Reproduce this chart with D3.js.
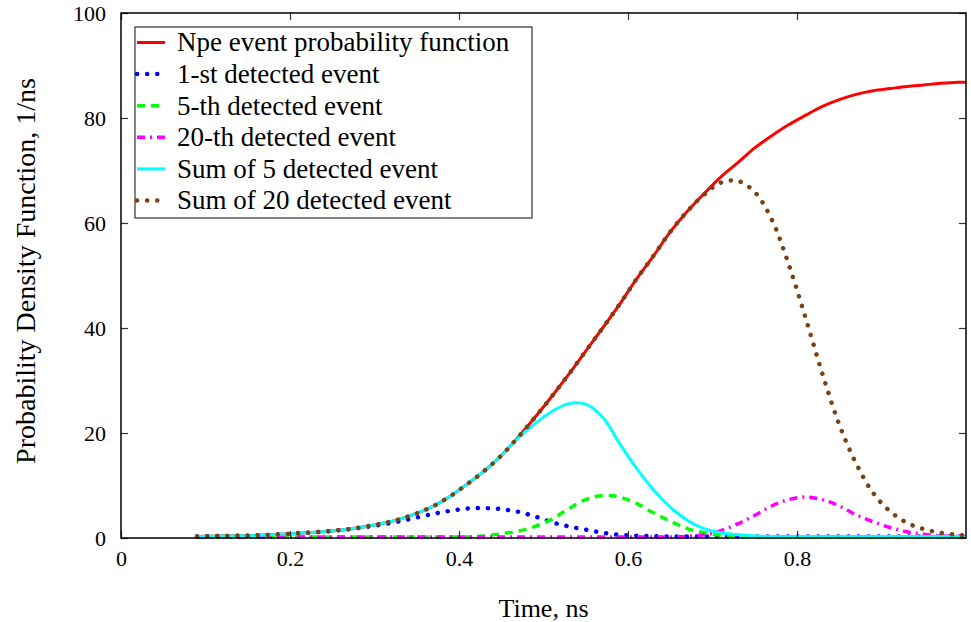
<!DOCTYPE html>
<html>
<head>
<meta charset="utf-8">
<script src="https://cdn.jsdelivr.net/npm/d3@7"></script>
<style>
	body { margin: 0; background: #fff; }
	svg text { font-family: "Liberation Serif", "Times New Roman", serif; fill: #000; }
</style>
</head>
<body>
<div id="chart"></div>
<script>
// time grid, ns
const time = [0.09, 0.11, 0.13, 0.15, 0.17, 0.19, 0.21, 0.23, 0.25, 0.27, 0.29, 0.31, 0.33, 0.35, 0.37, 0.39,
	0.41, 0.43, 0.45, 0.47, 0.49, 0.51, 0.53, 0.55, 0.57, 0.59, 0.61, 0.63, 0.65, 0.67, 0.69, 0.71, 0.73, 0.75,
	0.77, 0.79, 0.81, 0.83, 0.85, 0.87, 0.89, 0.91, 0.93, 0.95, 0.97, 0.99, 1.0];

const npe = [0.3, 0.35, 0.4, 0.45, 0.55, 0.7, 0.9, 1.1, 1.35, 1.7, 2.2, 2.8, 3.6, 4.7, 6.1, 8.0,
	10.3, 12.8, 15.7, 19.2, 23.0, 27.0, 31.2, 35.6, 40.0, 44.5, 49.3, 53.7, 58.3, 62.2, 65.6, 68.8, 71.5, 74.3,
	76.6, 78.7, 80.5, 82.2, 83.5, 84.5, 85.2, 85.6, 86.0, 86.3, 86.6, 86.8, 86.8];

const first = [0.3, 0.35, 0.4, 0.45, 0.55, 0.7, 0.9, 1.1, 1.35, 1.7, 2.1, 2.6, 3.2, 3.9, 4.6, 5.2,
	5.6, 5.7, 5.5, 5.0, 4.1, 3.0, 2.2, 1.6, 1.0, 0.6, 0.45, 0.35, 0.3, 0.3, 0.3, 0.3, 0.3, 0.3,
	0.3, 0.3, 0.3, 0.3, 0.3, 0.3, 0.3, 0.3, 0.3, 0.3, 0.3, 0.3, 0.3];

const fifth = [0.2, 0.2, 0.2, 0.2, 0.2, 0.2, 0.2, 0.2, 0.2, 0.2, 0.2, 0.2, 0.2, 0.2, 0.2, 0.2,
	0.2, 0.4, 0.8, 1.3, 2.2, 3.6, 5.6, 7.3, 8.1, 7.8, 6.6, 4.8, 3.2, 1.8, 1.0, 0.5, 0.3, 0.2,
	0.2, 0.2, 0.2, 0.2, 0.2, 0.2, 0.2, 0.2, 0.2, 0.2, 0.2, 0.2, 0.2];

const twentieth = [0.2, 0.2, 0.2, 0.2, 0.2, 0.2, 0.2, 0.2, 0.2, 0.2, 0.2, 0.2, 0.2, 0.2, 0.2, 0.2,
	0.2, 0.2, 0.2, 0.2, 0.2, 0.2, 0.2, 0.2, 0.2, 0.2, 0.2, 0.2, 0.2, 0.3, 0.6, 1.4, 2.7, 4.3,
	6.1, 7.3, 7.8, 7.3, 6.1, 4.4, 3.1, 2.0, 1.2, 0.7, 0.4, 0.3, 0.3];

const sum5 = [0.3, 0.35, 0.4, 0.45, 0.55, 0.7, 0.9, 1.1, 1.35, 1.7, 2.2, 2.8, 3.6, 4.7, 6.1, 8.0,
	10.3, 12.8, 15.7, 19.0, 21.8, 24.1, 25.6, 25.5, 23.0, 18.0, 13.3, 9.2, 5.9, 3.4, 1.8, 1.0, 0.6, 0.4,
	0.3, 0.3, 0.3, 0.3, 0.3, 0.3, 0.3, 0.3, 0.3, 0.3, 0.3, 0.3, 0.3];

const sum20 = [0.3, 0.35, 0.4, 0.45, 0.55, 0.7, 0.9, 1.1, 1.35, 1.7, 2.2, 2.8, 3.6, 4.7, 6.1, 8.0,
	10.3, 12.8, 15.7, 19.2, 23.0, 27.0, 31.2, 35.6, 40.0, 44.5, 49.3, 53.7, 58.3, 62.2, 65.4, 67.7, 68.0, 65.9,
	60.7, 52.2, 42.0, 31.3, 21.6, 14.2, 8.6, 5.1, 2.9, 1.7, 1.0, 0.6, 0.5];

const seriesNames = ["Npe event probability function", "1-st detected event", "5-th detected event",
	"20-th detected event", "Sum of 5 detected event", "Sum of 20 detected event"];

const xTicks = [0, 0.2, 0.4, 0.6, 0.8];
const yTicks = [0, 20, 40, 60, 80, 100];

const serif = "Liberation Serif, Times New Roman, serif";
const width = 971;
const height = 622;
const margin = { top: 13, right: 5, bottom: 84, left: 121 };
const w = width - margin.left - margin.right;
const h = height - margin.top - margin.bottom;

// line styles, same order as the legend
const styles = [
	{ values: npe, color: "#ff0000", width: 3, dash: null, cap: "butt" },
	{ values: first, color: "#0000ff", width: 4.5, dash: "0.1 10", cap: "round" },
	{ values: fifth, color: "#00ff00", width: 3.5, dash: "8 6", cap: "butt" },
	{ values: twentieth, color: "#ff00ff", width: 3.5, dash: "8 5 2 5", cap: "butt" },
	{ values: sum5, color: "#00ffff", width: 3, dash: null, cap: "butt" },
	{ values: sum20, color: "#7b4112", width: 4.5, dash: "0.1 10", cap: "round" }
];

const svg = d3.select("#chart").append("svg")
	.attr("width", width)
	.attr("height", height);

const g = svg.append("g")
	.attr("transform", `translate(${margin.left},${margin.top})`);

const x = d3.scaleLinear().domain([0, 1]).range([0, w]);
const y = d3.scaleLinear().domain([0, 100]).range([h, 0]);

// Lines
const line = d3.line()
	.x(d => x(d[0]))
	.y(d => y(d[1]))
	.curve(d3.curveCatmullRom);

styles.forEach(s => {
	g.append("path")
		.datum(time.map((t, i) => [t, s.values[i]]))
		.attr("fill", "none")
		.attr("stroke", s.color)
		.attr("stroke-width", s.width)
		.attr("stroke-dasharray", s.dash)
		.attr("stroke-linecap", s.cap)
		.attr("stroke-linejoin", "round")
		.attr("d", line);
});
// Lines end

// Axes (ticks inside, on all four sides)
const tickLen = 7;
g.append("g")
	.attr("transform", `translate(0,${h})`)
	.call(d3.axisBottom(x).tickValues(xTicks).tickSize(-tickLen).tickPadding(tickLen + 5)
		.tickFormat(d => d === 0 ? "0" : d3.format(".1f")(d)))
	.call(a => a.select(".domain").remove())
	.call(a => a.selectAll("text").attr("font-size", "22px").attr("font-family", serif).attr("dy", "0.71em"));

g.append("g")
	.call(d3.axisTop(x).tickValues(xTicks).tickSize(-tickLen).tickFormat(""))
	.call(a => a.select(".domain").remove());

g.append("g")
	.call(d3.axisLeft(y).tickValues(yTicks).tickSize(-tickLen).tickPadding(tickLen + 8))
	.call(a => a.select(".domain").remove())
	.call(a => a.selectAll("text").attr("font-size", "22px").attr("font-family", serif));

g.append("g")
	.attr("transform", `translate(${w},0)`)
	.call(d3.axisRight(y).tickValues(yTicks).tickSize(-tickLen).tickFormat(""))
	.call(a => a.select(".domain").remove());

g.selectAll(".tick line").attr("stroke", "#333").attr("stroke-width", 1.2);

g.append("rect")
	.attr("width", w)
	.attr("height", h)
	.attr("fill", "none")
	.attr("stroke", "#000")
	.attr("stroke-width", 1.5);
// Axes end

// Legend
const legend = g.append("g").attr("transform", `translate(${135 - margin.left},${27 - margin.top})`);
legend.append("rect")
	.attr("width", 397)
	.attr("height", 191)
	.attr("fill", "#fff")
	.attr("stroke", "#333")
	.attr("stroke-width", 1.2);

const rowH = 31.6;
seriesNames.forEach((name, i) => {
	const s = styles[i];
	const cy = 15.5 + i * rowH;
	legend.append("line")
		.attr("x1", 2).attr("x2", 30)
		.attr("y1", cy).attr("y2", cy)
		.attr("stroke", s.color)
		.attr("stroke-width", s.width)
		.attr("stroke-dasharray", s.dash)
		.attr("stroke-linecap", s.cap);
	legend.append("text")
		.attr("x", 42)
		.attr("y", cy)
		.attr("dy", "0.33em")
		.attr("font-size", "27px")
		.attr("font-family", serif)
		.text(name);
});
// Legend end

// Labels
svg.append("text")
	.attr("x", margin.left + w / 2)
	.attr("y", 617)
	.attr("text-anchor", "middle")
	.attr("font-size", "26px")
	.attr("font-family", serif)
	.text("Time, ns");

svg.append("text")
	.attr("transform", `translate(35,271) rotate(-90)`)
	.attr("text-anchor", "middle")
	.attr("font-size", "28px")
	.attr("font-family", serif)
	.text("Probability Density Function, 1/ns");
// Labels end
</script>
</body>
</html>
